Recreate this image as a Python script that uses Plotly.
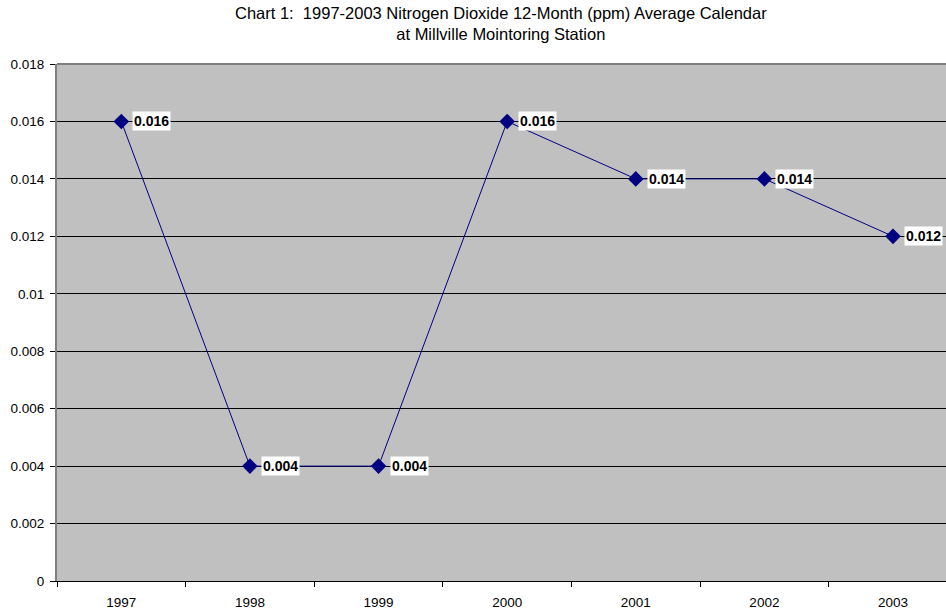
import plotly.graph_objects as go

years = ["1997", "1998", "1999", "2000", "2001", "2002", "2003"]
no2_ppm = [0.016, 0.004, 0.004, 0.016, 0.014, 0.014, 0.012]
y_ticks = [0, 0.002, 0.004, 0.006, 0.008, 0.01, 0.012, 0.014, 0.016, 0.018]
y_tick_text = ["0", "0.002", "0.004", "0.006", "0.008", "0.01", "0.012", "0.014", "0.016", "0.018"]

xpos = list(range(len(years)))
FONT = "Liberation Sans, Arial, sans-serif"

fig = go.Figure()
fig.add_trace(go.Scatter(
    x=xpos, y=no2_ppm, mode="lines+markers",
    line=dict(color="#000080", width=1),
    marker=dict(symbol="diamond", size=12, color="#000080"),
    showlegend=False, hoverinfo="skip",
))

# value labels beside each point
for x, v in zip(xpos, no2_ppm):
    fig.add_annotation(
        x=x, y=v, xref="x", yref="y", text=f"<b>{v:g}</b>",
        showarrow=False, xanchor="left", yanchor="middle", xshift=11,
        bgcolor="white", borderpad=1,
        font=dict(family=FONT, size=14, color="black"),
    )

# chart title (two lines)
fig.add_annotation(
    text="Chart 1:  1997-2003 Nitrogen Dioxide 12-Month (ppm) Average Calendar<br>at Millville Mointoring Station",
    xref="paper", yref="paper", x=0.4994, y=1.0774, xanchor="center", yanchor="middle",
    showarrow=False, align="center",
    font=dict(family=FONT, size=16.5, color="black"),
)

# top border of the plotting area
fig.add_shape(type="line", xref="paper", yref="paper", x0=0, x1=1, y0=1, y1=1,
              line=dict(color="#808080", width=2))

fig.update_layout(
    width=946, height=612,
    margin=dict(l=57, r=0, t=64, b=31),
    paper_bgcolor="white", plot_bgcolor="#C0C0C0",
    font=dict(family=FONT, size=13.5, color="black"),
    xaxis=dict(
        range=[-0.5, 6.412], tickmode="array", tickvals=xpos, ticktext=years,
        ticks="", showgrid=False, zeroline=False,
        showline=True, linecolor="black", linewidth=1,
        minor=dict(tickmode="linear", tick0=-0.5, dtick=1, ticks="outside",
                   ticklen=5, tickcolor="black", showgrid=False),
        ticklabelstandoff=9,
        tickfont=dict(family=FONT, size=13.5), fixedrange=True,
    ),
    yaxis=dict(
        range=[0, 0.018], tickmode="array", tickvals=y_ticks, ticktext=y_tick_text,
        ticks="outside", ticklen=5, tickcolor="black",
        showgrid=True, gridcolor="black", gridwidth=1,
        zeroline=False, showline=True, linecolor="#808080", linewidth=2,
        ticklabelstandoff=3,
        tickfont=dict(family=FONT, size=13.5), fixedrange=True,
    ),
)

fig.write_html("out.html")
